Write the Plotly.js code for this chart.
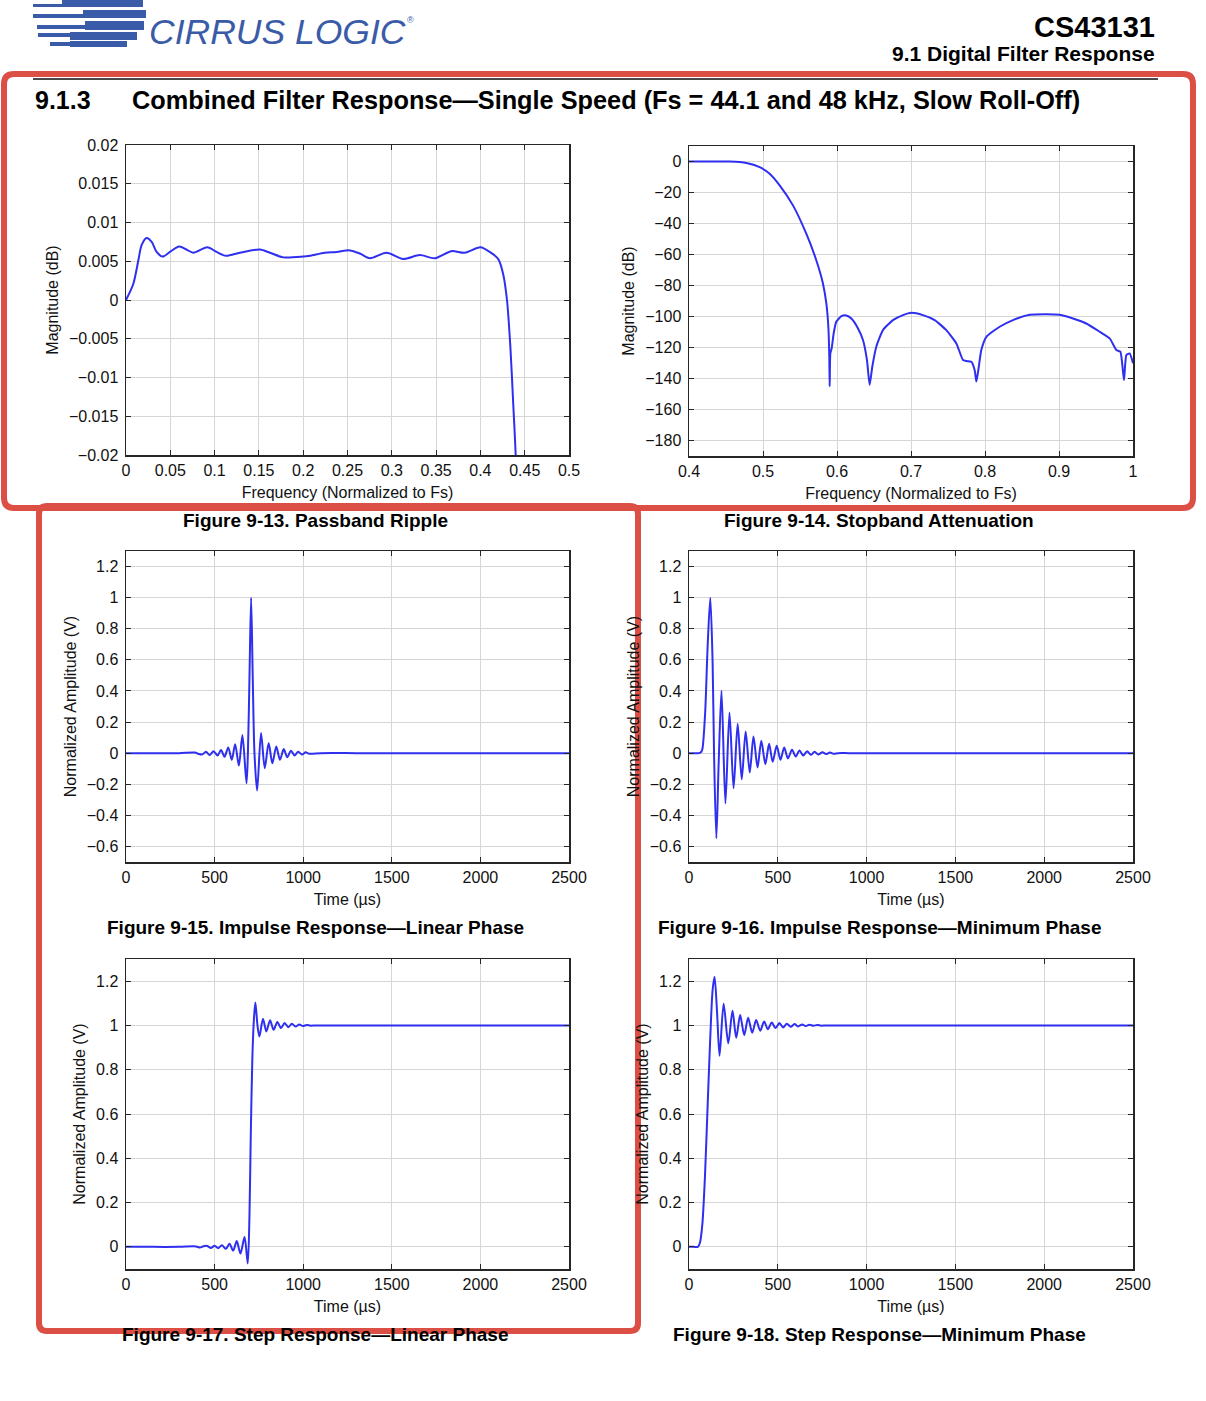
<!DOCTYPE html>
<html>
<head>
<meta charset="utf-8">
<script src="https://cdn.plot.ly/plotly-3.0.1.min.js"></script>
<style>html,body{margin:0;padding:0;background:#fff;}#chart{width:1206px;height:1401px;}</style>
</head>
<body>
<div id="chart"></div>
<script>
// ---------- DATA ----------
// Figure 9-13 Passband ripple
const passbandFreq = [0, 0.0083, 0.0139, 0.0177, 0.0233, 0.029, 0.0346, 0.0414, 0.0496, 0.060, 0.0684, 0.0759, 0.0917, 0.1023, 0.1128, 0.1286, 0.1511, 0.1624, 0.1774, 0.2, 0.2075, 0.2244, 0.2376, 0.2526, 0.2639, 0.2752, 0.294, 0.3128, 0.3316, 0.3485, 0.3673, 0.3823, 0.4, 0.4105, 0.42, 0.4256, 0.43, 0.4338, 0.4368, 0.4398, 0.441];
const passbandMag = [0, 0.0021, 0.0051, 0.0071, 0.0080, 0.0075, 0.0062, 0.0056, 0.0062, 0.0069, 0.0065, 0.0061, 0.0068, 0.0062, 0.0057, 0.0061, 0.0065, 0.0061, 0.0055, 0.0056, 0.0057, 0.0061, 0.0062, 0.0064, 0.0060, 0.0054, 0.0061, 0.0053, 0.0058, 0.0054, 0.0063, 0.0061, 0.0068, 0.0062, 0.0053, 0.0034, 0.0, -0.0060, -0.0128, -0.0199, -0.025];

// Figure 9-14 Stopband attenuation
const stopbandFreq = [0.4, 0.455, 0.4775, 0.4955, 0.509, 0.5225, 0.5405, 0.5585, 0.572, 0.581, 0.5856, 0.5883, 0.5896, 0.5901, 0.591, 0.5928, 0.5955, 0.599, 0.6059, 0.6126, 0.6194, 0.6284, 0.6351, 0.6405, 0.6441, 0.6477, 0.6531, 0.6621, 0.6756, 0.6892, 0.7005, 0.7162, 0.732, 0.7477, 0.7613, 0.7703, 0.7748, 0.7815, 0.786, 0.7883, 0.791, 0.795, 0.8018, 0.8198, 0.8378, 0.8604, 0.8829, 0.9009, 0.9189, 0.9369, 0.9549, 0.9685, 0.9775, 0.9829, 0.9878, 0.991, 0.9955, 1.0];
const stopbandMag = [0, 0, -0.9, -3.6, -7.9, -15.4, -28.3, -46.6, -63.7, -78.7, -91.6, -106.6, -125.9, -145, -123.8, -120.6, -110.9, -103.4, -99.8, -99.3, -101.3, -107.7, -115.2, -128.1, -144.2, -132.4, -119.5, -108.8, -102.3, -99.1, -97.6, -99.1, -102.3, -108.8, -117.4, -128.1, -128.7, -129.2, -134.5, -142, -134.5, -121.6, -113.1, -106.6, -102.3, -98.9, -98.5, -98.9, -101.3, -104.5, -109.8, -114.1, -121.6, -122.7, -141, -124.9, -123.8, -130.2];

// Figure 9-15 Impulse response, linear phase
const impLinTime = [0, 150, 300, 389, 410, 431, 451, 472, 494, 517, 536, 556, 577, 597, 616, 637, 657, 680, 688, 697, 706, 715, 725, 740, 762, 783, 805, 826, 848, 869, 890, 910, 931, 951, 972, 993, 1014, 1035, 1100, 1300, 1500, 1750, 2000, 2250, 2500];
const impLinAmp  = [0, 0, 0, 0.004, -0.005, -0.008, 0.009, -0.012, 0.013, -0.015, 0.02, -0.023, 0.037, -0.043, 0.058, -0.08, 0.116, -0.194, 0, 0.5, 1.0, 0.5, 0, -0.24, 0.129, -0.097, 0.065, -0.065, 0.043, -0.043, 0.026, -0.026, 0.015, -0.015, 0.009, -0.009, 0.005, -0.004, 0, 0, 0, 0, 0, 0, 0];

// Figure 9-16 Impulse response, minimum phase
const impMinTime = [0, 30, 57, 70, 76, 91, 105, 120, 133, 141, 154, 167, 183, 205, 228, 251, 274, 297, 319, 342, 363, 386, 407, 430, 451, 471, 494, 515, 536, 557, 580, 601, 622, 643, 665, 686, 707, 728, 751, 772, 793, 814, 840, 900, 1100, 1300, 1500, 1750, 2000, 2250, 2500];
const impMinAmp  = [0, 0, 0, 0.01, 0.03, 0.26, 0.69, 1.0, 0.58, 0, -0.548, -0.065, 0.402, -0.323, 0.262, -0.226, 0.189, -0.168, 0.14, -0.125, 0.107, -0.092, 0.08, -0.071, 0.06, -0.056, 0.047, -0.043, 0.036, -0.034, 0.022, -0.022, 0.017, -0.015, 0.013, -0.011, 0.009, -0.009, 0.006, -0.006, 0.004, -0.004, 0, 0, 0, 0, 0, 0, 0, 0, 0];

// Figure 9-17 Step response, linear phase
const stepLinTime = [0, 150, 300, 395, 416, 437, 458, 479, 500, 521, 541, 564, 584, 605, 625, 646, 669, 687, 697, 704, 713, 722, 730, 742, 753, 773, 792, 813, 833, 854, 875, 895, 916, 936, 957, 978, 998, 1020, 1041, 1070, 1150, 1300, 1500, 1750, 2000, 2250, 2500];
const stepLinAmp  = [0, 0, 0, 0.002, -0.003, 0.003, 0.004, -0.005, 0.005, -0.006, 0.0075, -0.009, 0.014, -0.017, 0.026, -0.03, 0.044, -0.075, 0.15, 0.5, 0.85, 1.03, 1.104, 1.0, 0.95, 1.03, 0.973, 1.023, 0.98, 1.015, 0.988, 1.011, 0.992, 1.0075, 0.995, 1.0045, 0.997, 1.002, 0.999, 1, 1, 1, 1, 1, 1, 1, 1];

// Figure 9-18 Step response, minimum phase
const stepMinTime = [0, 25, 50, 62, 75, 90, 105, 120, 133, 144, 158, 172, 195, 221, 245, 266, 288, 311, 333, 356, 378, 401, 423, 444, 466, 487, 509, 530, 551, 573, 594, 614, 637, 657, 678, 700, 722, 744, 770, 850, 1000, 1200, 1500, 1750, 2000, 2250, 2500];
const stepMinAmp  = [0, 0, 0, 0.02, 0.1, 0.32, 0.64, 0.95, 1.16, 1.22, 1.06, 0.863, 1.099, 0.919, 1.066, 0.944, 1.047, 0.956, 1.035, 0.967, 1.024, 0.976, 1.018, 0.983, 1.0135, 0.988, 1.0105, 0.991, 1.0075, 0.994, 1.006, 0.9955, 1.0045, 0.997, 1.003, 0.9985, 1.002, 0.999, 1, 1, 1, 1, 1, 1, 1, 1, 1];

// Tick labels
const passbandXTicks = [0, 0.05, 0.1, 0.15, 0.2, 0.25, 0.3, 0.35, 0.4, 0.45, 0.5];
const passbandXText  = ['0', '0.05', '0.1', '0.15', '0.2', '0.25', '0.3', '0.35', '0.4', '0.45', '0.5'];
const passbandYTicks = [-0.02, -0.015, -0.01, -0.005, 0, 0.005, 0.01, 0.015, 0.02];
const passbandYText  = ['\u22120.02', '\u22120.015', '\u22120.01', '\u22120.005', '0', '0.005', '0.01', '0.015', '0.02'];
const stopbandXTicks = [0.4, 0.5, 0.6, 0.7, 0.8, 0.9, 1];
const stopbandXText  = ['0.4', '0.5', '0.6', '0.7', '0.8', '0.9', '1'];
const stopbandYTicks = [-180, -160, -140, -120, -100, -80, -60, -40, -20, 0];
const stopbandYText  = ['\u2212180', '\u2212160', '\u2212140', '\u2212120', '\u2212100', '\u221280', '\u221260', '\u221240', '\u221220', '0'];
const timeTicks = [0, 500, 1000, 1500, 2000, 2500];
const timeText  = ['0', '500', '1000', '1500', '2000', '2500'];
const impulseYTicks = [-0.6, -0.4, -0.2, 0, 0.2, 0.4, 0.6, 0.8, 1, 1.2];
const impulseYText  = ['\u22120.6', '\u22120.4', '\u22120.2', '0', '0.2', '0.4', '0.6', '0.8', '1', '1.2'];
const stepYTicks = [0, 0.2, 0.4, 0.6, 0.8, 1, 1.2];
const stepYText  = ['0', '0.2', '0.4', '0.6', '0.8', '1', '1.2'];

// ---------- LAYOUT HELPERS ----------
const W = 1206, H = 1401;
const px = x => x / W;
const py = y => 1 - y / H;
const FONT = 'Liberation Sans, Arial, Helvetica, sans-serif';
const BLUE = '#2f2ff0';

function axisBase(extra) {
  return Object.assign({
    showline: true, linecolor: '#262626', linewidth: 1.5, mirror: 'ticks',
    ticks: 'inside', ticklen: 5, tickwidth: 1, tickcolor: '#262626',
    showgrid: true, gridcolor: '#d6d6d6', gridwidth: 1, zeroline: false,
    tickfont: {family: FONT, size: 16, color: '#111'}, fixedrange: true,
    tickmode: 'array', ticklabelstandoff: 3
  }, extra);
}
function xT(text) { return {text: text, font: {family: FONT, size: 16, color: '#111'}, standoff: 9}; }
function yT(text) { return {text: text, font: {family: FONT, size: 16, color: '#111'}, standoff: 6}; }

const colL = [126, 569], colR = [689, 1133];
const row1 = [145, 455], row1b = [146, 456], row2 = [551, 862], row3 = [959, 1269];
const dx = c => [px(c[0]), px(c[1])];
const dy = r => [py(r[1]), py(r[0])];

function trace(x, y, xa, ya, shape, smooth) {
  return {x: x, y: y, xaxis: xa, yaxis: ya, type: 'scatter', mode: 'lines',
    line: {color: BLUE, width: 2, shape: shape, smoothing: smooth}, hoverinfo: 'skip', showlegend: false, cliponaxis: true};
}

const data = [
  trace(passbandFreq, passbandMag, 'x', 'y', 'spline', 0.8),
  trace(stopbandFreq, stopbandMag, 'x2', 'y2', 'spline', 0.5),
  trace(impLinTime, impLinAmp, 'x3', 'y3', 'spline', 0.8),
  trace(impMinTime, impMinAmp, 'x4', 'y4', 'spline', 0.8),
  trace(stepLinTime, stepLinAmp, 'x5', 'y5', 'spline', 0.8),
  trace(stepMinTime, stepMinAmp, 'x6', 'y6', 'spline', 0.8)
];

function roundRect(x0, y0, x1, y1, r) {
  const X = v => px(v).toFixed(5), Y = v => py(v).toFixed(5);
  return 'M' + X(x0 + r) + ',' + Y(y0) + ' L' + X(x1 - r) + ',' + Y(y0) +
    ' Q' + X(x1) + ',' + Y(y0) + ' ' + X(x1) + ',' + Y(y0 + r) +
    ' L' + X(x1) + ',' + Y(y1 - r) +
    ' Q' + X(x1) + ',' + Y(y1) + ' ' + X(x1 - r) + ',' + Y(y1) +
    ' L' + X(x0 + r) + ',' + Y(y1) +
    ' Q' + X(x0) + ',' + Y(y1) + ' ' + X(x0) + ',' + Y(y1 - r) +
    ' L' + X(x0) + ',' + Y(y0 + r) +
    ' Q' + X(x0) + ',' + Y(y0) + ' ' + X(x0 + r) + ',' + Y(y0) + ' Z';
}

const LOGO = '#3a5ba8';
const logoBars = [
  [33, 4, 62, 7], [62, 0, 143, 7],
  [33, 14, 83, 18], [83, 10, 146, 18],
  [37, 25, 85, 29], [85, 21, 144, 30],
  [38, 33, 70, 37], [70, 32, 137, 40],
  [50, 42, 70, 46], [70, 41, 127, 47]
];
const shapes = logoBars.map(b => ({type: 'rect', xref: 'paper', yref: 'paper',
  x0: px(b[0]), x1: px(b[2]), y0: py(b[3]), y1: py(b[1]), fillcolor: LOGO, line: {width: 0}}));
shapes.push({type: 'line', xref: 'paper', yref: 'paper', x0: px(33), x1: px(1158), y0: py(79), y1: py(79), line: {color: '#4a4a4a', width: 2}});
shapes.push({type: 'path', xref: 'paper', yref: 'paper', path: roundRect(4, 74, 1193, 508, 10), line: {color: '#dc4f45', width: 6}});
shapes.push({type: 'path', xref: 'paper', yref: 'paper', path: roundRect(39, 506, 638, 1331, 8), line: {color: '#dc4f45', width: 6}});

function ann(text, x, y, size, opts) {
  return Object.assign({text: text, x: px(x), y: py(y), xref: 'paper', yref: 'paper', showarrow: false,
    xanchor: 'center', yanchor: 'middle', font: {family: FONT, size: size, color: '#000', weight: 700}}, opts || {});
}
const annotations = [
  ann('CIRRUS LOGIC', 147, 32, 35.5, {xanchor: 'left', font: {family: FONT, size: 35.5, color: LOGO, style: 'italic', weight: 400}}),
  ann('®', 405, 20, 9, {xanchor: 'left', font: {family: FONT, size: 9, color: LOGO}}),
  ann('CS43131', 1157, 27, 29, {xanchor: 'right'}),
  ann('9.1 Digital Filter Response', 1157, 54, 21, {xanchor: 'right'}),
  ann('9.1.3', 33, 100, 25, {xanchor: 'left'}),
  ann('Combined Filter Response\u2014Single Speed (Fs = 44.1 and 48 kHz, Slow Roll-Off)', 130, 100, 25.3, {xanchor: 'left'}),
  ann('Figure 9-13. Passband Ripple', 315, 520, 19),
  ann('Figure 9-14. Stopband Attenuation', 879, 520, 19),
  ann('Figure 9-15. Impulse Response\u2014Linear Phase', 315, 927, 19),
  ann('Figure 9-16. Impulse Response\u2014Minimum Phase', 879, 927, 19),
  ann('Figure 9-17. Step Response\u2014Linear Phase', 315, 1334, 19),
  ann('Figure 9-18. Step Response\u2014Minimum Phase', 879, 1334, 19)
];

const xStand = {ticklabelstandoff: 0};
const layout = {
  width: W, height: H, margin: {l: 0, r: 0, t: 0, b: 0},
  paper_bgcolor: '#fff', plot_bgcolor: '#fff', showlegend: false,
  font: {family: FONT, color: '#000'},
  xaxis:  axisBase(Object.assign({domain: dx(colL), anchor: 'y',  range: [0, 0.5], tickvals: passbandXTicks, ticktext: passbandXText, title: xT('Frequency (Normalized to Fs)')}, xStand)),
  yaxis:  axisBase({domain: dy(row1), anchor: 'x',  range: [-0.02, 0.02], tickvals: passbandYTicks, ticktext: passbandYText, title: yT('Magnitude (dB)')}),
  xaxis2: axisBase(Object.assign({domain: dx(colR), anchor: 'y2', range: [0.4, 1], tickvals: stopbandXTicks, ticktext: stopbandXText, title: xT('Frequency (Normalized to Fs)')}, xStand)),
  yaxis2: axisBase({domain: dy(row1b), anchor: 'x2', range: [-190, 10], tickvals: stopbandYTicks, ticktext: stopbandYText, title: yT('Magnitude (dB)')}),
  xaxis3: axisBase(Object.assign({domain: dx(colL), anchor: 'y3', range: [0, 2500], tickvals: timeTicks, ticktext: timeText, title: xT('Time (\u00b5s)')}, xStand)),
  yaxis3: axisBase({domain: dy(row2), anchor: 'x3', range: [-0.7, 1.3], tickvals: impulseYTicks, ticktext: impulseYText, title: yT('Normalized Amplitude (V)')}),
  xaxis4: axisBase(Object.assign({domain: dx(colR), anchor: 'y4', range: [0, 2500], tickvals: timeTicks, ticktext: timeText, title: xT('Time (\u00b5s)')}, xStand)),
  yaxis4: axisBase({domain: dy(row2), anchor: 'x4', range: [-0.7, 1.3], tickvals: impulseYTicks, ticktext: impulseYText, title: yT('Normalized Amplitude (V)')}),
  xaxis5: axisBase(Object.assign({domain: dx(colL), anchor: 'y5', range: [0, 2500], tickvals: timeTicks, ticktext: timeText, title: xT('Time (\u00b5s)')}, xStand)),
  yaxis5: axisBase({domain: dy(row3), anchor: 'x5', range: [-0.1, 1.3], tickvals: stepYTicks, ticktext: stepYText, title: yT('Normalized Amplitude (V)')}),
  xaxis6: axisBase(Object.assign({domain: dx(colR), anchor: 'y6', range: [0, 2500], tickvals: timeTicks, ticktext: timeText, title: xT('Time (\u00b5s)')}, xStand)),
  yaxis6: axisBase({domain: dy(row3), anchor: 'x6', range: [-0.1, 1.3], tickvals: stepYTicks, ticktext: stepYText, title: yT('Normalized Amplitude (V)')}),
  shapes: shapes,
  annotations: annotations
};

Plotly.newPlot('chart', data, layout, {staticPlot: true, displayModeBar: false});
</script>
</body>
</html>
